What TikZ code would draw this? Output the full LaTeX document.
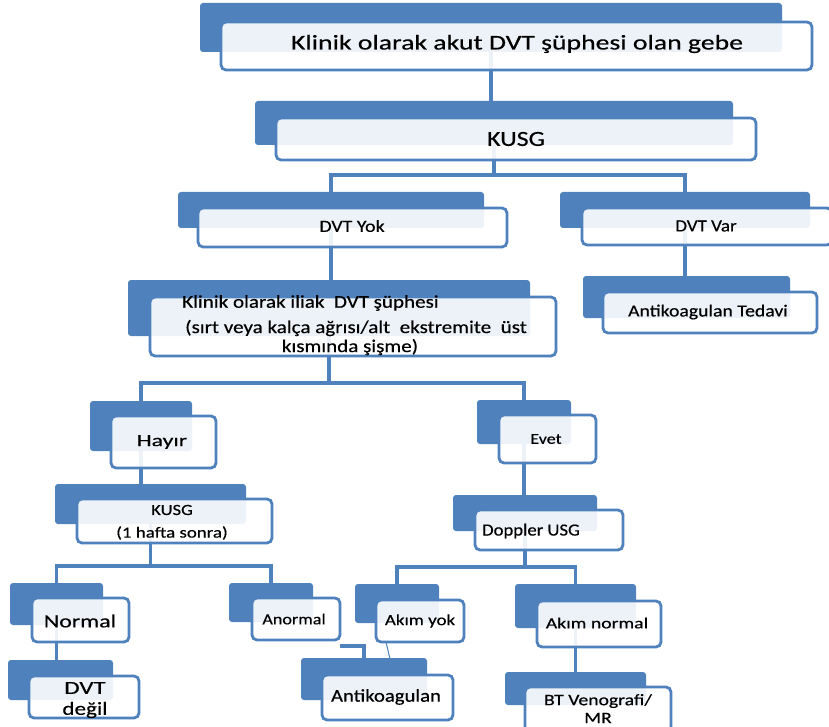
\documentclass[tikz,border=0pt]{standalone}
\usepackage{fontspec}
\setmainfont{Carlito}
\usetikzlibrary{backgrounds,calc}
\definecolor{accent}{HTML}{4F81BD}
\tikzset{
  backbox/.style={fill=accent, draw=none, rounded corners=3pt, anchor=north west, inner sep=0pt, outer sep=0pt},
  frontbox/.style={fill=white, fill opacity=0.9, draw=accent, draw opacity=1, line width=2.8pt, rounded corners=5pt, anchor=north west, inner sep=0pt, outer sep=0pt},
  txt/.style={text=black, inner sep=0pt, anchor=center, align=center},
  conn/.style={draw=accent, line width=3.2pt},
  thin/.style={draw=accent, line width=1pt},
}
\newcommand\fnt[2]{\fontspec[FakeStretch=#1,FakeBold=0.4]{Carlito}\fontsize{#2}{#2}\selectfont}
\newcommand\duo[9]{%
  \node[backbox, minimum width=#4pt-#2pt, minimum height=#5pt-#3pt] (#1b) at (#2,#3) {};
  \node[frontbox, minimum width=#8pt-#6pt, minimum height=#9pt-#7pt] (#1) at (#6,#7) {};
}
\begin{document}
\begin{tikzpicture}[x=1pt,y=-1pt]
\useasboundingbox (0,0) rectangle (829,727);
% boxes
\duo{n1}{200}{3}{782}{52}{221}{22}{812}{70}
\duo{n2}{255}{101}{733}{145}{276}{118}{756}{160}
\duo{n3}{178}{192}{484}{228}{198}{208}{507}{247}
\duo{n4}{560}{192}{810}{228}{582}{208}{832}{245}
\duo{n5}{583}{276}{790}{318}{603}{292}{817}{333}
\duo{n6}{128}{280}{530}{336}{150}{297}{556}{356}
\duo{n7}{90}{401}{192}{451}{111}{416}{216}{468}
\duo{n8}{477}{400}{571}{444}{499}{415}{596}{463}
\duo{n9}{55}{484}{246}{524}{77}{499}{272}{543}
\duo{n10}{453}{495}{597}{531}{475}{510}{623}{550}
\duo{n11}{10}{583}{103}{625}{32}{598}{129}{642}
\duo{n12}{229}{583}{313}{622}{252}{598}{340}{640}
\duo{n13}{355}{584}{439}{623}{376}{600}{464}{642}
\duo{n14}{515}{584}{636}{628}{537}{601}{661}{647}
\duo{n15}{8}{660}{113}{700}{29}{676}{139}{718}
\duo{n16}{301}{658}{427}{700}{322}{675}{453}{720}
\duo{n17}{505}{672}{646}{705}{525}{687}{671}{732}
% texts
\node[txt] (t1) at (517,44) {\fnt{1.32}{21}Klinik olarak akut DVT şüphesi olan gebe};
\node[txt] (t2) at (516,139) {\fnt{1.2}{21.5}KUSG};
\node[txt] (t3) at (352,226) {\fnt{1.17}{17}DVT Yok};
\node[txt] (t4) at (706,226) {\fnt{1.12}{17}DVT Var};
\node[txt] (t5) at (708,312) {\fnt{1.16}{17}Antikoagulan Tedavi};
\node[txt, anchor=west] (t6a) at (182,303) {\fnt{1.17}{18}Klinik olarak iliak \ DVT şüphesi};
\node[txt, anchor=west] (t6b) at (185,328) {\fnt{1.17}{18}(sırt veya kalça ağrısı/alt \ ekstremite \ üst};
\node[txt] (t6c) at (350,347) {\fnt{1.17}{18}kısmında şişme)};
\node[txt] (t7) at (162,442) {\fnt{1.4}{17}Hayır};
\node[txt] (t8) at (546,439) {\fnt{1.2}{15}Evet};
\node[txt] (t9a) at (172,510) {\fnt{1.2}{15.5}KUSG};
\node[txt] (t9b) at (172,533) {\fnt{1.22}{15.5}(1 hafta sonra)};
\node[txt] (t10) at (531,531) {\fnt{1.1}{17}Doppler USG};
\node[txt] (t11) at (80,621) {\fnt{1.29}{18.5}Normal};
\node[txt] (t12) at (294,619) {\fnt{1.17}{15.5}Anormal};
\node[txt] (t13) at (420,621) {\fnt{1.22}{15.5}Akım yok};
\node[txt] (t14) at (597,623) {\fnt{1.27}{15.5}Akım normal};
\node[txt] (t15a) at (85,688) {\fnt{1.35}{18.5}DVT};
\node[txt] (t15b) at (85,710) {\fnt{1.25}{18.5}değil};
\node[txt] (t16) at (386,697) {\fnt{1.15}{18}Antikoagulan};
\node[txt] (t17a) at (598,701) {\fnt{1.23}{16}BT Venografi/};
\node[txt] (t17b) at (598,718) {\fnt{1.23}{16}MR};
% connectors
\coordinate (j2) at (0,175);
\coordinate (j6) at (0,383);
\coordinate (j9) at (0,566);
\coordinate (j10) at (0,567);
\coordinate (j12) at (340,646);
\coordinate (a1) at (386,642);
\coordinate (a2) at (390,659);
\begin{pgfonlayer}{background}
\fill[white] (0,0) rectangle (829,727);
\draw[conn] (n1b.center) -- (n1b.center |- n2b.north);
\draw[conn] (n2b.center) -- (n2b.center |- j2);
\draw[conn] (n3b.north) -- (n3b.north |- j2) -| (n4b.north);
\draw[conn] (n3b.center) -- (n3b.center |- n6b.north);
\draw[conn] (n4b.center) -- (n4b.center |- n5b.north);
\draw[conn] (n6b.center) -- (n6b.center |- j6);
\draw[conn] (n7b.north) -- (n7b.north |- j6) -| (n8b.north);
\draw[conn] (n7b.center) -- (n7b.center |- n9b.north);
\draw[conn] (n8b.center) -- (n8b.center |- n10b.north);
\draw[conn] (n9b.center) -- (n9b.center |- j9);
\draw[conn] (n11b.north) -- (n11b.north |- j9) -| (n12b.north);
\draw[conn] (n10b.center) -- (n10b.center |- j10);
\draw[conn] (n13b.north) -- (n13b.north |- j10) -| (n14b.north);
\draw[conn] (n11b.center) -- (n11b.center |- n15b.north);
\draw[conn] (n14b.center) -- (n14b.center |- n17b.north);
\draw[conn] (j12) -| (n16b.north);
\draw[thin] (a1) -- (a2);
\end{pgfonlayer}
\end{tikzpicture}
\end{document}
